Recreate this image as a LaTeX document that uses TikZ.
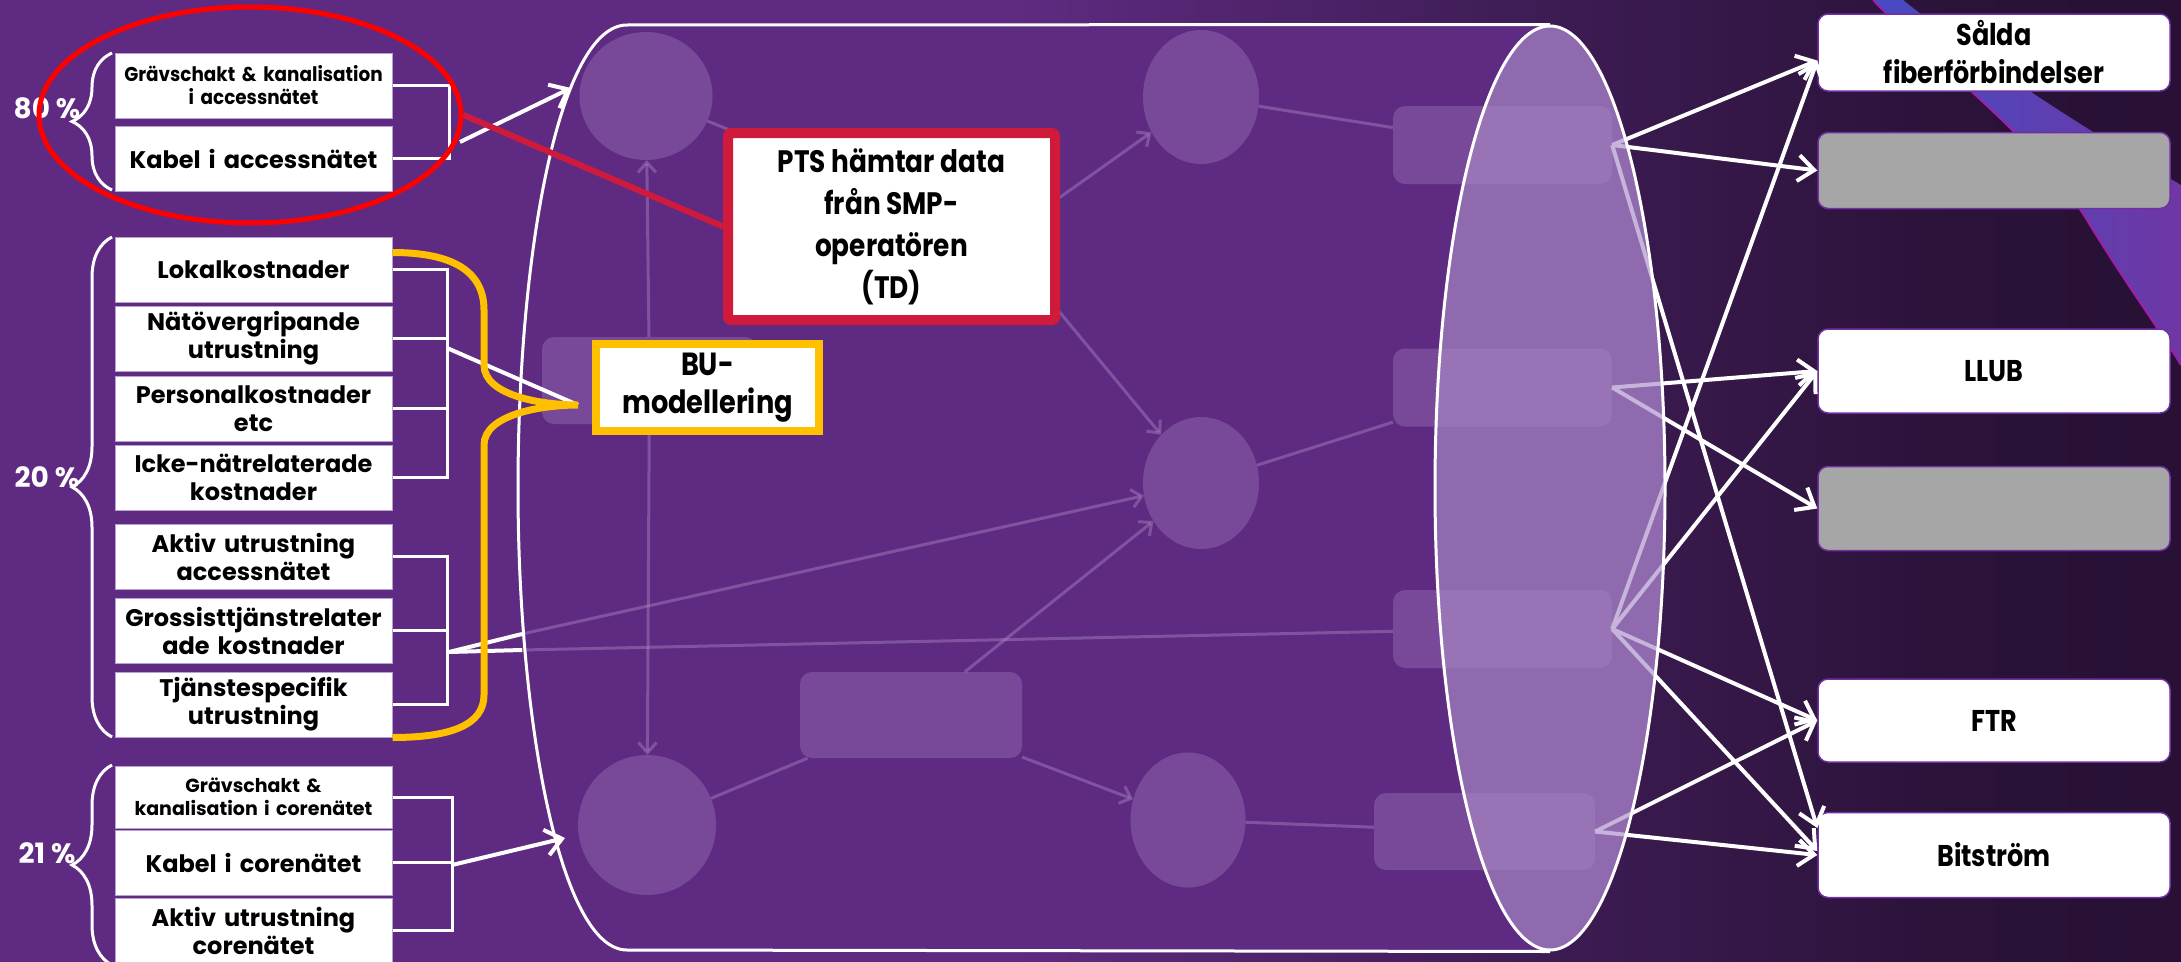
\documentclass[tikz,border=0pt]{standalone}
\usepackage{fontspec}
\setmainfont{Poppins}
\newfontfamily\condfont{Poppins}[FakeStretch=0.85]
\newfontfamily\narrowfont{Poppins}[FakeStretch=0.92]
\usetikzlibrary{positioning,shapes.geometric,arrows.meta,decorations.pathreplacing}

\definecolor{bgpurple}{RGB}{95,43,130}
\definecolor{bgmid}{RGB}{62,28,85}
\definecolor{bgdark}{RGB}{42,18,56}
\definecolor{bgdarker}{RGB}{30,13,40}
\definecolor{bgblack}{RGB}{16,4,20}
\definecolor{ghostfill}{RGB}{175,145,205}
\definecolor{lavender}{RGB}{170,140,200}
\definecolor{boxline}{RGB}{185,160,210}
\definecolor{prodline}{RGB}{112,48,160}
\definecolor{greybox}{RGB}{166,166,166}
\definecolor{crimson}{RGB}{208,26,60}
\definecolor{goldline}{RGB}{255,192,0}
\definecolor{stripeblue}{RGB}{70,75,195}
\definecolor{stripepurple}{RGB}{110,55,165}
\definecolor{stripeedge}{RGB}{160,30,170}

\pgfdeclarehorizontalshading{bgshade}{100bp}{color(0bp)=(bgpurple); color(48bp)=(bgpurple); color(60bp)=(bgmid); color(70bp)=(bgdark); color(94bp)=(bgdarker); color(100bp)=(bgblack)}

\tikzstyle{costbox} = [rectangle,draw=boxline,line width=1pt,fill=white,text centered,align=center,text width=265pt,inner xsep=6pt,inner ysep=0pt,minimum height=65pt,font=\bfseries\fontsize{24}{28}\selectfont]
\tikzstyle{prodbox} = [rectangle,draw=prodline,line width=1.5pt,fill=white,rounded corners=10pt,align=center,minimum width=352pt,minimum height=77pt,font=\condfont\bfseries\fontsize{30}{38}\selectfont]

\begin{document}
\begin{tikzpicture}
		[x=1pt,y=-1pt,
		ghost/.style={fill=ghostfill,fill opacity=0.3,rounded corners=12pt,minimum width=219pt,minimum height=78pt},
		ghostell/.style={ellipse,fill=ghostfill,fill opacity=0.3},
		ghostline/.style={draw=ghostfill,line width=3pt,draw opacity=0.4},
		ghostarr/.style={-{Straight Barb[length=10pt,width=18pt]}},
		wire/.style={draw=white,line width=4pt},
		bracket/.style={draw=white,line width=3pt},
		arr/.style={-{Straight Barb[length=16pt,width=26pt]}},
		curly/.style={draw=white,line width=3pt,decorate,decoration={brace,amplitude=40pt}},
		pct/.style={text=white,font=\bfseries\fontsize{28}{32}\selectfont}
		]
		\shade[shading=bgshade] (0,0) rectangle (2181,961);
		\useasboundingbox (0,0) rectangle (2181,961);

		\shade[left color=stripeblue,right color=stripepurple] (1873,0) .. controls (1930,60) and (2040,140) .. (2090,225) .. controls (2130,290) and (2160,330) .. (2181,365) -- (2181,185) .. controls (2120,150) and (1990,70) .. (1903,0) -- cycle;
		\draw[stripeedge,line width=2pt] (1873,0) .. controls (1930,60) and (2040,140) .. (2090,225) .. controls (2130,290) and (2160,330) .. (2181,365);

		\fill[bgpurple] (627,25) -- (1550,25) -- (1550,950) -- (627,950) .. controls (560,950) and (518,720) .. (518,488) .. controls (518,250) and (560,25) .. (627,25) -- cycle;
		\fill[bgpurple] (1550,488) ellipse [x radius=115,y radius=462];

		\node[ghostell,minimum width=133pt,minimum height=128pt] (gA) at (646,96) {};
		\node[ghostell,minimum width=116pt,minimum height=134pt] (gB) at (1201,97) {};
		\node[ghostell,minimum width=116pt,minimum height=132pt] (gC) at (1201,483) {};
		\node[ghostell,minimum width=138pt,minimum height=140pt] (gD) at (647,825) {};
		\node[ghostell,minimum width=115pt,minimum height=135pt] (gF) at (1188,820) {};
		\node[ghost,minimum width=215pt,minimum height=87pt] (gBU) at (649.5,380.5) {};
		\node[ghost,minimum width=222pt,minimum height=86pt] (gE) at (911,715) {};
		\node[ghost] (r1) at (1502.5,145) {};
		\node[ghost] (r2) at (1502.5,387.5) {};
		\node[ghost] (r3) at (1502.5,629) {};
		\node[ghost,minimum width=221pt,minimum height=77pt] (r4) at (1484.5,831.5) {};
		\coordinate (hid) at (1000,240);
		\coordinate (inA) at (571,88);
		\coordinate (inC1) at (522,634);
		\coordinate (inC2) at (522,650);
		\coordinate (inD) at (565,838);

		\draw[ghostline,ghostarr] (gBU) -- (gA);
		\draw[ghostline,ghostarr] (gBU) -- (gD);
		\draw[ghostline] (gA) -- (hid);
		\draw[ghostline,ghostarr] (hid) -- (gB);
		\draw[ghostline,ghostarr] (hid) -- (gC);
		\draw[ghostline] (gB) -- (r1);
		\draw[ghostline] (gC) -- (r2);
		\draw[ghostline,ghostarr] (inC1) -- (gC);
		\draw[ghostline] (inC2) -- (r3);
		\draw[ghostline] (gD) -- (gE);
		\draw[ghostline,ghostarr] (gE) -- (gC);
		\draw[ghostline,ghostarr] (gE) -- (gF);
		\draw[ghostline] (gF) -- (r4);

		\node[prodbox] (sal) at (1994,52.5) {Sålda\\fiberförbindelser};
		\node[prodbox,fill=greybox,minimum height=76pt,below=40pt of sal] (gr1) {};
		\node[prodbox,minimum height=84pt,below=119pt of gr1] (llub) {LLUB};
		\node[prodbox,fill=greybox,minimum height=84pt,below=52pt of llub] (gr2) {};
		\node[prodbox,minimum height=83pt,below=127pt of gr2] (ftr) {FTR};
		\node[prodbox,minimum height=85pt,below=49pt of ftr] (bit) {Bitström};

		\draw[wire,arr] (r1.east) -- ([yshift=-8pt]sal.west);
		\draw[wire,arr] (r1.east) -- (gr1.west);
		\draw[wire,arr] (r1.east) -- ([yshift=27pt]bit.west);
		\draw[wire,arr] (r2.east) -- (llub.west);
		\draw[wire,arr] (r2.east) -- (gr2.west);
		\draw[wire,arr] (r3.east) -- ([yshift=-8pt]sal.west);
		\draw[wire,arr] (r3.east) -- (llub.west);
		\draw[wire,arr] (r3.east) -- (ftr.west);
		\draw[wire,arr] (r3.east) -- ([yshift=4pt]bit.west);
		\draw[wire,arr] (r4.east) -- (ftr.west);
		\draw[wire,arr] (r4.east) -- (bit.west);

		\node[ellipse,draw=white,line width=3pt,fill=lavender,fill opacity=0.65,minimum width=230pt,minimum height=924pt] (cylend) at (1550,488) {};
		\draw[white,line width=3pt] (cylend.north) -- (627,25) .. controls (560,25) and (518,250) .. (518,488) .. controls (518,720) and (560,950) .. (627,950) -- (cylend.south);

		\node[costbox,text width=275pt,inner xsep=1pt,font=\narrowfont\bfseries\fontsize{20}{23}\selectfont] (gak) at (253.5,85.5) {Grävschakt \& kanalisation\\i accessnätet};
		\node[costbox,below=7pt of gak] (kak) {Kabel i accessnätet};
		\node[costbox] (lok) at (253.5,269.5) {Lokalkostnader};
		\node[costbox,below=3pt of lok] (nat) {Nätövergripande\\utrustning};
		\node[costbox,below=4pt of nat] (per) {Personalkostnader\\etc};
		\node[costbox,below=3pt of per] (icke) {Icke-nätrelaterade\\kostnader};
		\node[costbox] (akt) at (253.5,556.5) {Aktiv utrustning\\accessnätet};
		\node[costbox,below=8pt of akt] (gro) {Grossisttjänstrelater\\ade kostnader};
		\node[costbox,below=8pt of gro] (tja) {Tjänstespecifik\\utrustning};
		\node[costbox,minimum height=62pt,font=\bfseries\fontsize{19}{23}\selectfont] (gco) at (253.5,797) {Grävschakt \&\\kanalisation i corenätet};
		\node[costbox,below=1pt of gco] (kco) {Kabel i corenätet};
		\node[costbox,below=2pt of kco] (aco) {Aktiv utrustning\\corenätet};

		\draw[curly] (112,190) -- (112,53);
		\draw[curly] (112,737) -- (112,237);
		\draw[curly] (112,965) -- (112,765);
		\node[pct] (p80) at (47,108) {80 \%};
		\node[pct] (p20) at (47,477) {20 \%};
		\node[pct] (p21) at (47,853) {21 \%};

		\draw[bracket] (gak.east) -- ++(57,0) |- (kak.east);
		\draw[bracket] (lok.east) -- ++(55,0) |- (icke.east);
		\draw[bracket] (nat.east) -- ++(55,0);
		\draw[bracket] (per.east) -- ++(55,0);
		\draw[bracket] (akt.east) -- ++(55,0) |- (tja.east);
		\draw[bracket] (gro.east) -- ++(55,0);
		\draw[bracket] (gco.east) -- ++(60,0) |- (aco.east);
		\draw[bracket] (kco.east) -- ++(60,0);
		\coordinate (bA) at (460,142);
		\coordinate (bB) at (447,348);
		\coordinate (bC) at (449,652);
		\coordinate (bD) at (452,865);
		\coordinate (butip) at (578,405);

		\draw[wire,arr] (bA) -- (inA);
		\draw[wire,arr] (bD) -- (inD);
		\draw[wire] (bC) -- (inC1);
		\draw[wire] (bC) -- (inC2);
		\draw[wire] (bB) -- (butip);

		\node[ellipse,draw=red,line width=5pt,minimum width=422pt,minimum height=216pt] (redring) at (250,115) {};
		\node[rectangle,draw=crimson,line width=10pt,fill=white,rounded corners=3pt,align=center,minimum width=327pt,minimum height=187pt,font=\condfont\bfseries\fontsize{31}{42}\selectfont] (pts) at (891.5,226.5) {PTS hämtar data\\från SMP-\\operatören\\(TD)};
		\draw[crimson,line width=6pt] (redring.east) -- (pts.west);

		\draw[goldline,line width=7pt] ([yshift=-16pt]lok.north east) .. controls +(58,0) and +(0,-40) .. (484,310) -- (484,365) .. controls +(0,30) and +(-38,0) .. (butip) .. controls +(-38,0) and +(0,-30) .. (484,445) -- (484,695) .. controls +(0,30) and +(58,0) .. (tja.south east);
		\node[rectangle,draw=goldline,line width=8pt,fill=white,align=center,minimum width=223pt,minimum height=87pt,font=\condfont\bfseries\fontsize{32}{38}\selectfont] (bu) at (707.5,387.5) {BU-\\modellering};
		\end{tikzpicture}
\end{document}
